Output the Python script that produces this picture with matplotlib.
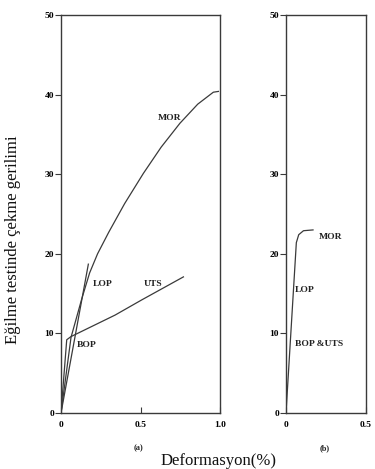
import matplotlib
matplotlib.use("Agg")
import matplotlib.pyplot as plt

# Panel (a) data
mor_a_x = [0, 0.063, 0.13, 0.18, 0.23, 0.30, 0.40, 0.518, 0.63, 0.748, 0.86, 0.958, 0.99]
mor_a_y = [0, 9.5, 14.3, 17.6, 20.0, 22.7, 26.3, 30.1, 33.4, 36.4, 38.8, 40.3, 40.4]
uts_a_x = [0, 0.036, 0.063, 0.34, 0.507, 0.77]
uts_a_y = [0, 9.2, 9.6, 12.3, 14.2, 17.1]
lop_a_x = [0, 0.172]
lop_a_y = [0, 18.7]

# Panel (b) data
b_x = [0, 0.065, 0.08, 0.11, 0.17]
b_y = [0, 21.4, 22.4, 22.9, 23.0]

yticks = [0, 10, 20, 30, 40, 50]
a_xticks = [0, 0.5, 1.0]
a_xticklabels = ["0", "0.5", "1.0"]
b_xticks = [0, 0.5]
b_xticklabels = ["0", "0.5"]

SERIF = "Liberation Serif"
LC = "#3a3a3a"

fig = plt.figure(figsize=(3.75, 4.69), dpi=100)
W, H = 375, 469

def add_ax(x0, x1, y0=15, y1=413):
    return fig.add_axes([x0 / W, (H - y1) / H, (x1 - x0) / W, (y1 - y0) / H])

axa = add_ax(61, 220)
axb = add_ax(286, 365.5)

for ax, xt, xl, xmax in [(axa, a_xticks, a_xticklabels, 1.0), (axb, b_xticks, b_xticklabels, 0.5)]:
    ax.set_xlim(0, xmax)
    ax.set_ylim(0, 50)
    ax.set_yticks(yticks)
    ax.set_yticklabels([str(v) for v in yticks], fontfamily=SERIF, fontweight="bold", fontsize=6.8)
    ax.set_xticks(xt)
    ax.set_xticklabels(xl, fontfamily=SERIF, fontweight="bold", fontsize=6.8)
    ax.tick_params(axis="y", direction="out", length=4, width=0.8, color=LC, pad=1)
    ax.tick_params(axis="x", direction="in", length=4, width=0.8, color=LC, pad=6)
    for s in ax.spines.values():
        s.set_color(LC)
        s.set_linewidth(1.0)

lw = 0.9
axa.plot(mor_a_x, mor_a_y, color=LC, lw=lw)
axa.plot(uts_a_x, uts_a_y, color=LC, lw=lw)
axa.plot(lop_a_x, lop_a_y, color=LC, lw=lw)
axb.plot(b_x, b_y, color=LC, lw=lw)

tk = dict(fontfamily=SERIF, fontweight="bold", fontsize=6.8, color="#222222",
          ha="center", va="center")
axa.text(0.68, 37.1, "MOR", **tk)
axa.text(0.264, 16.2, "LOP", **tk)
axa.text(0.58, 16.2, "UTS", **tk)
axa.text(0.16, 8.5, "BOP", **tk)
axb.text(0.283, 22.15, "MOR", **tk)
axb.text(0.12, 15.4, "LOP", **tk)
axb.text(0.21, 8.7, "BOP &UTS", **tk)

fig.text(138 / W, 1 - 448 / H, "(a)", fontfamily=SERIF, fontweight="bold", fontsize=6,
         ha="center", va="center", color="#222222")
fig.text(325 / W, 1 - 448 / H, "(b)", fontfamily=SERIF, fontweight="bold", fontsize=6,
         ha="center", va="center", color="#222222")
fig.text(219 / W, 1 - 461 / H, "Deformasyon(%)", fontfamily=SERIF, fontsize=12,
         ha="center", va="center", color="#111111")
fig.text(13 / W, 1 - 240 / H, "Eğilme testinde çekme gerilimi", fontfamily=SERIF, fontsize=12,
         rotation=90, ha="center", va="center", color="#111111")

fig.savefig("out.png", dpi=100)
